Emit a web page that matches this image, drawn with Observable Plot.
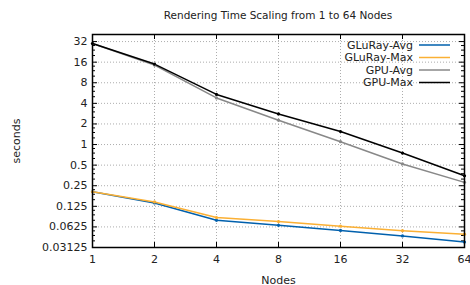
<!DOCTYPE html>
<html>
<head>
<meta charset="utf-8">
<script src="https://cdn.jsdelivr.net/npm/d3@7"></script>
<script src="https://cdn.jsdelivr.net/npm/@observablehq/plot@0.6"></script>
<style>
  body { margin: 0; background: #fff; }
  svg { font-family: "DejaVu Sans", sans-serif; }
</style>
</head>
<body>
<div id="chart"></div>
<script>
const nodes = [1, 2, 4, 8, 16, 32, 64];
const seriesNames = ["GLuRay-Avg", "GLuRay-Max", "GPU-Avg", "GPU-Max"];
const gluRayAvg = [0.204, 0.14, 0.078, 0.066, 0.0556, 0.0462, 0.0375];
const gluRayMax = [0.204, 0.145, 0.0856, 0.0747, 0.064, 0.055, 0.049];
const gpuAvg = [30, 14.5, 4.8, 2.27, 1.1, 0.52, 0.28];
const gpuMax = [30, 15, 5.4, 2.8, 1.55, 0.75, 0.35];
const colors = ["#0060ad", "#fbb034", "#888888", "#000000"];
const yTicks = [0.03125, 0.0625, 0.125, 0.25, 0.5, 1, 2, 4, 8, 16, 32];
const xTicks = [1, 2, 4, 8, 16, 32, 64];
const titleText = "Rendering Time Scaling from 1 to 64 Nodes";

const allSeries = [gluRayAvg, gluRayMax, gpuAvg, gpuMax];
const data = [];
allSeries.forEach((vals, si) => vals.forEach((v, i) => data.push({series: seriesNames[si], nodes: nodes[i], value: v})));

const minorTicks = [];
yTicks.forEach(t => [1.25, 1.5, 1.75].forEach(m => { if (t * m < 40) minorTicks.push(t * m); }));

const W = 470, H = 285, mL = 92, mR = 6, mT = 34, mB = 38;
const pw = W - mL - mR, ph = H - mT - mB;

const gridStyle = {stroke: "#999", strokeOpacity: 0.8, strokeDasharray: "1,2", strokeWidth: 1};

const plot = Plot.plot({
  width: W, height: H,
  marginLeft: mL, marginRight: mR, marginTop: mT, marginBottom: mB,
  style: {fontSize: "11px", fontFamily: "DejaVu Sans, sans-serif", color: "#222", background: "#fff"},
  x: {type: "log", base: 2, domain: [1, 64]},
  y: {type: "log", base: 2, domain: [0.03125, 40.6]},
  color: {domain: seriesNames, range: colors},
  marks: [
    Plot.gridX(xTicks, gridStyle),
    Plot.gridY(yTicks, gridStyle),
    Plot.axisX({ticks: xTicks, tickSize: 0, tickPadding: 8, tickFormat: d => String(d), label: "Nodes", labelAnchor: "center", labelOffset: 36, labelArrow: "none"}),
    Plot.axisY({ticks: yTicks, tickSize: 0, tickPadding: 5, tickFormat: d => String(d), label: "seconds", labelAnchor: "center", labelOffset: 80, labelArrow: "none"}),
    Plot.tickY(yTicks, {y: d => d, insetRight: pw - 5, stroke: "#000", strokeWidth: 1}),
    Plot.tickY(yTicks, {y: d => d, insetLeft: pw - 5, stroke: "#000", strokeWidth: 1}),
    Plot.tickY(minorTicks, {y: d => d, insetRight: pw - 3, stroke: "#000", strokeWidth: 1}),
    Plot.tickY(minorTicks, {y: d => d, insetLeft: pw - 3, stroke: "#000", strokeWidth: 1}),
    Plot.tickX(xTicks, {x: d => d, insetTop: ph - 5, stroke: "#000", strokeWidth: 1}),
    Plot.tickX(xTicks, {x: d => d, insetBottom: ph - 5, stroke: "#000", strokeWidth: 1}),
    Plot.line(data, {x: "nodes", y: "value", z: "series", stroke: "series", strokeWidth: 1.5}),
    Plot.dot(data, {x: "nodes", y: "value", fill: "series", r: 1.6}),
    Plot.frame({stroke: "#000", strokeWidth: 1.5})
  ]
});

document.getElementById("chart").appendChild(plot);

const svg = d3.select(plot);
svg.append("text")
  .attr("x", mL + pw / 2).attr("y", 19)
  .attr("text-anchor", "middle")
  .attr("font-size", "10.5px").attr("fill", "#222")
  .text(titleText);

const leg = svg.append("g").attr("font-size", "11px");
seriesNames.forEach((name, i) => {
  const y = 45 + i * 12.5;
  leg.append("text").attr("x", 413).attr("y", y).attr("dy", "0.35em")
    .attr("text-anchor", "end").attr("fill", "#222").text(name);
  leg.append("line").attr("x1", 419).attr("x2", 450).attr("y1", y).attr("y2", y)
    .attr("stroke", colors[i]).attr("stroke-width", 1.5);
});
</script>
</body>
</html>
